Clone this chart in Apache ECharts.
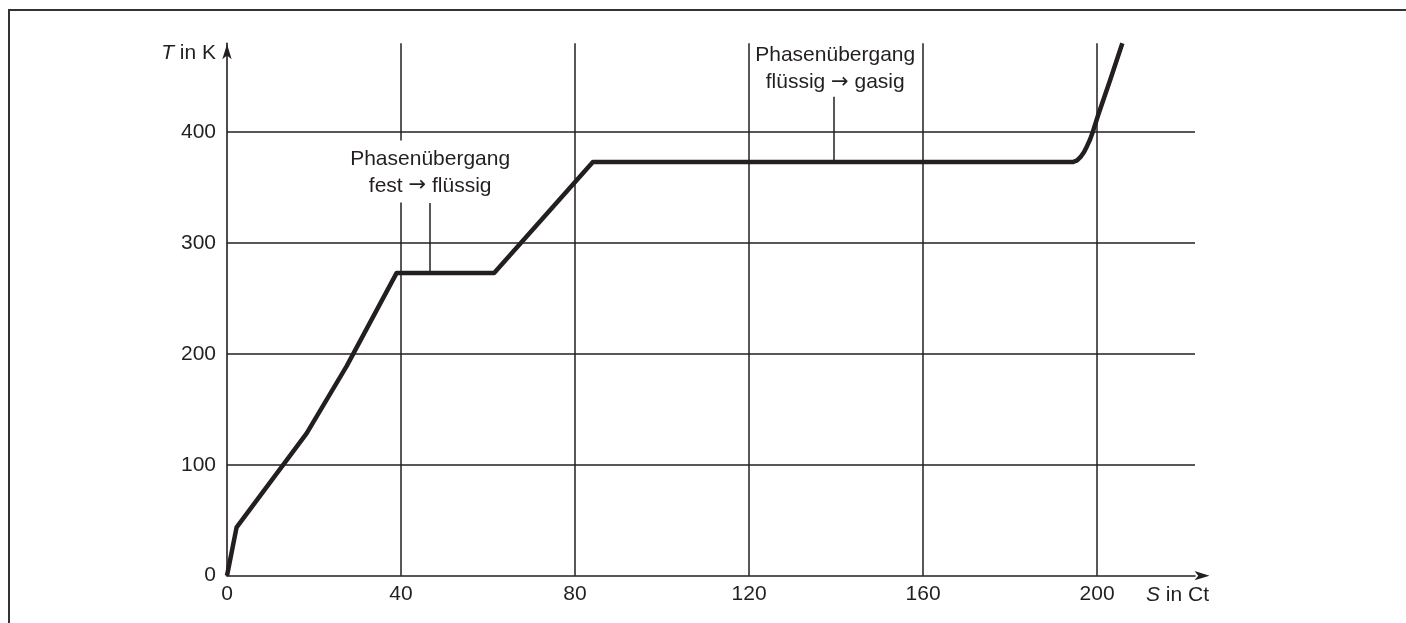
<!DOCTYPE html>
<html>
<head>
<meta charset="utf-8">
<script src="https://cdn.jsdelivr.net/npm/echarts@6/dist/echarts.min.js"></script>
<style>
html,body{margin:0;padding:0;background:#fff;}
#chart{width:1406px;height:623px;}
</style>
</head>
<body>
<div id="chart"></div>
<script>
// Curve: entropy S (Ct) vs temperature T (K)
const S = [0, 2.2, 18.3, 27.5, 39.0, 61.4, 84.1, 194.5, 195.4, 196.2, 197.0, 197.7, 198.4, 199.0, 200.3, 203.0, 205.8];
const T = [0, 43.6, 128.4, 189, 273, 273, 373, 373, 374.5, 377.5, 382, 387.5, 393.5, 400, 416, 447, 480];

const xTicks = [0, 40, 80, 120, 160, 200];
const yTicks = [0, 100, 200, 300, 400];

// Annotations
const annoLine1 = ['Phasenübergang', 'Phasenübergang'];
const annoLine2a = ['fest', 'flüssig'];
const annoLine2b = ['flüssig', 'gasig'];
const annoTextPos = [[46.7, 364.5], [139.8, 457.8]];
const annoPointerS = [46.7, 139.4];
const annoPointerT = [[273, 336], [373, 431.7]];

const FONT = '"Liberation Sans", Arial, Helvetica, sans-serif';
const INK = '#231f20';

const chart = echarts.init(document.getElementById('chart'), null, {renderer: 'canvas'});

const curve = S.map((s, i) => [s, T[i]]);

const frame = {
  id: 'frame',
  type: 'polyline',
  silent: true,
  shape: {points: [[9, 623], [9, 10], [1406, 10]]},
  style: {stroke: '#333', lineWidth: 2, fill: null}
};

const option = {
  animation: false,
  backgroundColor: '#fff',
  textStyle: {fontFamily: FONT},
  grid: {left: 227, right: 211, top: 43.3, bottom: 47.3},
  xAxis: {
    type: 'value', min: 0, max: 222.5, interval: 40,
    axisLine: {show: true, lineStyle: {color: INK, width: 1.6}, symbol: ['none', 'arrow'], symbolSize: [7, 15], symbolOffset: [0, 14.5]},
    axisTick: {show: false},
    axisLabel: {
      color: INK, fontSize: 21, fontFamily: FONT, margin: 8,
      showMaxLabel: false,
      formatter: v => xTicks.includes(v) ? String(v) : ''
    },
    splitLine: {show: true, showMinLine: false, showMaxLine: false, lineStyle: {color: INK, width: 1.5}},
    name: '{i|S} in Ct',
    nameLocation: 'end',
    nameGap: 14,
    nameTextStyle: {
      color: INK, fontSize: 21, fontFamily: FONT, align: 'right', verticalAlign: 'top', padding: [9, 0, 0, 0],
      rich: {i: {fontStyle: 'italic', fontSize: 21, fontFamily: FONT, color: INK}}
    }
  },
  yAxis: {
    type: 'value', min: 0, max: 480, interval: 100,
    axisLine: {show: true, lineStyle: {color: INK, width: 1.6}, symbol: ['none', 'arrow'], symbolSize: [7, 15], symbolOffset: [0, -1]},
    axisTick: {show: false},
    axisLabel: {
      color: INK, fontSize: 21, fontFamily: FONT, margin: 11,
      showMaxLabel: false,
      formatter: v => yTicks.includes(v) ? String(v) : ''
    },
    splitLine: {show: true, showMinLine: false, showMaxLine: false, lineStyle: {color: INK, width: 1.5}},
    name: '{i|T} in K',
    nameLocation: 'end',
    nameGap: -10,
    nameTextStyle: {
      color: INK, fontSize: 21, fontFamily: FONT, align: 'right', verticalAlign: 'middle', padding: [0, 11, 0, 0],
      rich: {i: {fontStyle: 'italic', fontSize: 21, fontFamily: FONT, color: INK}}
    }
  },
  series: [
    {
      type: 'line',
      data: curve,
      showSymbol: false,
      symbol: 'none',
      smooth: false,
      lineStyle: {color: INK, width: 4.5, join: 'round'},
      z: 5,
      markLine: {
        silent: true,
        symbol: ['none', 'none'],
        label: {show: false},
        lineStyle: {color: INK, width: 1.5, type: 'solid', opacity: 1},
        emphasis: {disabled: true},
        data: annoPointerS.map((s, i) => [
          {coord: [s, annoPointerT[i][0]]},
          {coord: [s, annoPointerT[i][1]]}
        ])
      }
    }
  ],
  graphic: [frame]
};

chart.setOption(option);

// annotation texts placed through the chart's own coordinate conversion
const annoGraphics = annoTextPos.map((p, i) => {
  const px = chart.convertToPixel({gridIndex: 0}, p);
  return {
    id: 'anno' + i,
    type: 'text',
    silent: true,
    z: 100,
    x: px[0],
    y: px[1],
    style: {
      text: '{t|' + annoLine1[i] + '}\n{t|' + annoLine2a[i] + ' }{a|\u2192}{t| ' + annoLine2b[i] + '}',
      align: 'center',
      verticalAlign: 'middle',
      fill: INK,
      backgroundColor: i === 0 ? '#fff' : null,
      padding: [5, 2, 3, 2],
      rich: {
        t: {fontSize: 21, fontFamily: FONT, fill: INK, lineHeight: 27},
        a: {fontSize: 21, fontFamily: '"DejaVu Sans"', fill: INK, lineHeight: 27}
      }
    }
  };
});
chart.setOption({graphic: [frame].concat(annoGraphics)});
</script>
</body>
</html>
